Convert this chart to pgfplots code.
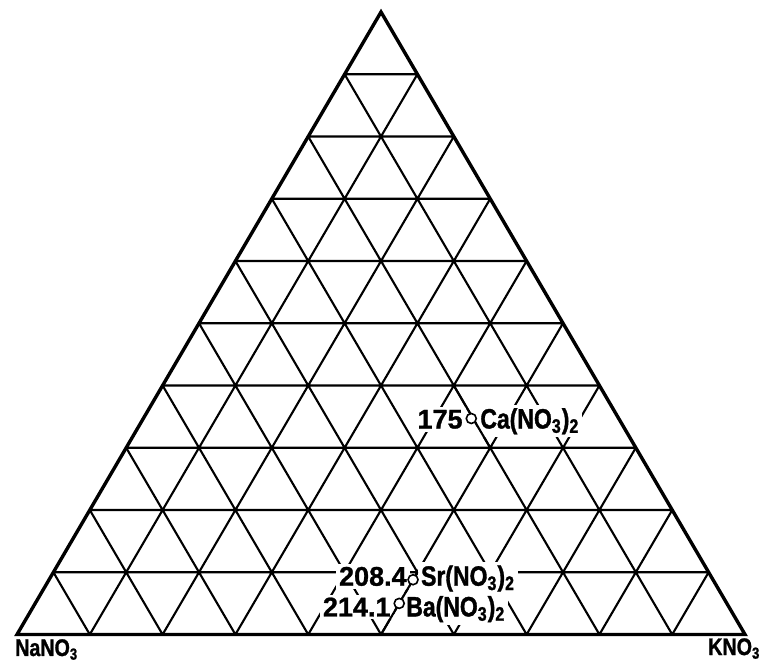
\documentclass[border=0pt]{standalone}
\usepackage{pgfplots}
\pgfplotsset{compat=1.18}
\usepackage{fontspec}
\setmainfont{Liberation Sans}
\newfontfamily\narrowfont{Liberation Sans}[FakeStretch=0.82, FakeBold=1.2]
\newfontfamily\heavyfont{Liberation Sans}[FakeBold=1]

\newcommand{\numfont}{\heavyfont\fontsize{13.5}{15}\selectfont\bfseries}
\newcommand{\namefont}{\narrowfont\fontsize{14}{16}\selectfont\bfseries}
\newcommand{\cnr}{\narrowfont\fontsize{12}{14}\selectfont\bfseries}
\tikzset{
  num/.style={fill=white, inner sep=1.5pt, font=\numfont},
  name/.style={fill=white, inner sep=1.5pt, font=\namefont},
}

\begin{document}
\begin{tikzpicture}
\begin{axis}[
  scale only axis, width=381.5pt, height=332.5pt,
  xmin=-0.2335, xmax=10.247, ymin=-0.49, ymax=10.193,
  axis lines=none, clip=false,
]
% page extent
\addplot[draw=none, forget plot] coordinates {(-0.2335,-0.49) (10.247,10.193)};

% 10 % composition grid
\addplot[black, line width=1.05pt, unbounded coords=jump] coordinates {
  (0.5,1) (9.5,1) (nan,nan)
  (1,2) (9,2) (nan,nan)
  (1.5,3) (8.5,3) (nan,nan)
  (2,4) (8,4) (nan,nan)
  (2.5,5) (7.5,5) (nan,nan)
  (3,6) (7,6) (nan,nan)
  (3.5,7) (6.5,7) (nan,nan)
  (4,8) (6,8) (nan,nan)
  (4.5,9) (5.5,9) (nan,nan)
  (1,0) (5.5,9) (nan,nan)
  (2,0) (6,8) (nan,nan)
  (3,0) (6.5,7) (nan,nan)
  (4,0) (7,6) (nan,nan)
  (5,0) (7.5,5) (nan,nan)
  (6,0) (8,4) (nan,nan)
  (7,0) (8.5,3) (nan,nan)
  (8,0) (9,2) (nan,nan)
  (9,0) (9.5,1) (nan,nan)
  (1,0) (0.5,1) (nan,nan)
  (2,0) (1,2) (nan,nan)
  (3,0) (1.5,3) (nan,nan)
  (4,0) (2,4) (nan,nan)
  (5,0) (2.5,5) (nan,nan)
  (6,0) (3,6) (nan,nan)
  (7,0) (3.5,7) (nan,nan)
  (8,0) (4,8) (nan,nan)
  (9,0) (4.5,9)
};

% outer triangle
\addplot[black, line width=1.7pt, line join=miter]
  coordinates {(0,0) (10,0) (5,10) (0,0) (10,0)};

% labels (white background breaks the grid lines)
\node[num, anchor=base east, xshift=-2.65pt, yshift=-5pt] at (axis cs:6.24,3.47) {175};
\node[name, anchor=base west, xshift=2.85pt, yshift=-5pt] at (axis cs:6.24,3.47) {Ca(NO\textsubscript{3})\textsubscript{2}};
\node[num, anchor=base east, xshift=-1.5pt, yshift=-3pt] at (axis cs:5.44,0.88) {208.4};
\node[name, anchor=base west, xshift=2.35pt, yshift=-3pt] at (axis cs:5.44,0.88) {Sr(NO\textsubscript{3})\textsubscript{2}};
\node[num, anchor=base east, xshift=-2.65pt, yshift=-6.5pt] at (axis cs:5.25,0.5) {214.1};
\node[name, anchor=base west, xshift=1.85pt, yshift=-6.5pt] at (axis cs:5.25,0.5) {Ba(NO\textsubscript{3})\textsubscript{2}};

% corner labels
\node[anchor=base west, inner sep=0pt, font=\cnr] at (axis cs:-0.03,-0.345) {NaNO\textsubscript{3}};
\node[anchor=base west, inner sep=0pt, font=\cnr] at (axis cs:9.49,-0.33) {KNO\textsubscript{3}};

% grid lines passing through the marked compositions
\addplot[black, line width=1.05pt] coordinates {(5,0) (5.5,1)};
\addplot[black, line width=1.05pt] coordinates {(6,4) (6.5,3)};

% compositions
\addplot[only marks, mark=*, mark size=2.5pt,
  mark options={fill=white, draw=black, line width=0.8pt}]
  coordinates {(6.24,3.47) (5.44,0.88) (5.25,0.5)};
\end{axis}
\end{tikzpicture}
\end{document}
